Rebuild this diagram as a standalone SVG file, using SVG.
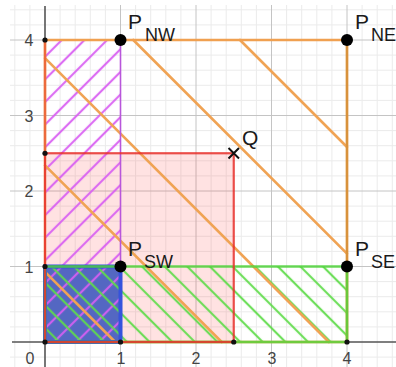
<svg xmlns="http://www.w3.org/2000/svg" width="396" height="367" viewBox="0 0 396 367">
<style>
.minor{stroke:#ebebeb;stroke-width:1;fill:none}
.major{stroke:#c4c4c4;stroke-width:1;fill:none}
.axis{stroke:#555;stroke-width:1.6;fill:none}
.tick{font-family:"Liberation Sans",Arial,sans-serif;font-size:16px;fill:#444;text-anchor:middle}
.lbl{font-family:"Liberation Sans",Arial,sans-serif;fill:#1a1a1a}
.big{font-size:21px}
.sub{font-size:18px}
.ohatch{stroke:#f0a354;stroke-width:2.6;fill:none;stroke-linecap:round}
.pt{fill:#000}
.vx{fill:#111}
</style>
<defs>
<pattern id="hm" patternUnits="userSpaceOnUse" width="16" height="16" patternTransform="rotate(45)">
<line x1="8" y1="-1" x2="8" y2="17" stroke="#d95ef2" stroke-width="2.2" stroke-opacity="0.9"/>
</pattern>
<pattern id="hg" patternUnits="userSpaceOnUse" width="16" height="16" patternTransform="rotate(-45)">
<line x1="8" y1="-1" x2="8" y2="17" stroke="#5fdc4a" stroke-width="2.2" stroke-opacity="0.9"/>
</pattern>
</defs>
<rect x="0" y="0" width="396" height="367" fill="#fff"/>
<g id="grid">
<path class="minor" d="M14.8 5V367M29.9 5V367M60.1 5V367M75.2 5V367M90.3 5V367M105.4 5V367M135.6 5V367M150.7 5V367M165.8 5V367M180.9 5V367M211.1 5V367M226.2 5V367M241.3 5V367M256.4 5V367M286.6 5V367M301.7 5V367M316.8 5V367M331.9 5V367M362.1 5V367M377.2 5V367M392.3 5V367M10 357.1H396M10 326.9H396M10 311.8H396M10 296.7H396M10 281.6H396M10 251.4H396M10 236.3H396M10 221.2H396M10 206.1H396M10 175.9H396M10 160.8H396M10 145.7H396M10 130.6H396M10 100.4H396M10 85.3H396M10 70.2H396M10 55.1H396M10 24.9H396M10 9.8H396"/>
<path class="major" d="M120.5 5V367M196 5V367M271.5 5V367M347 5V367M10 266.5H396M10 191H396M10 115.5H396M10 40H396"/>
</g>
<g id="axes">
<path class="axis" d="M45 6V367M12 342H396"/>
<text class="tick" x="29" y="46">4</text>
<text class="tick" x="29" y="121.5">3</text>
<text class="tick" x="29" y="197">2</text>
<text class="tick" x="29" y="272.5">1</text>
<text class="tick" x="30" y="363.5">0</text>
<text class="tick" x="121" y="363.5">1</text>
<text class="tick" x="196" y="363.5">2</text>
<text class="tick" x="272" y="363.5">3</text>
<text class="tick" x="347" y="363.5">4</text>
</g>
<g id="region-red-fill">
<rect x="45" y="153.25" width="188.75" height="188.75" fill="#ff3b3b" fill-opacity="0.15"/>
</g>
<g id="region-blue-fill">
<rect x="45" y="266.5" width="75.5" height="75.5" fill="#5467c2"/>
</g>
<g id="region-magenta-hatch">
<rect x="45" y="40" width="75.5" height="302" fill="url(#hm)"/>
</g>
<g id="region-green-hatch">
<rect x="45" y="266.5" width="302" height="75.5" fill="url(#hg)"/>
</g>
<g id="region-orange-hatch">
<line class="ohatch" x1="45" y1="271.8" x2="115.2" y2="342"/>
<line class="ohatch" x1="45" y1="165.3" x2="221.7" y2="342"/>
<line class="ohatch" x1="45" y1="58.1" x2="328.9" y2="342"/>
<line class="ohatch" x1="133.3" y1="40" x2="347" y2="253.7"/>
<line class="ohatch" x1="240" y1="40" x2="347" y2="147"/>
</g>
<g id="region-magenta">
<rect x="45" y="40" width="75.5" height="302" fill="none" stroke="#b856db" stroke-width="1.6"/>
</g>
<g id="region-orange">
<path d="M45 40H347V342H45Z" fill="none" stroke="#f0a050" stroke-width="2.4"/>
<path d="M347 40V342" fill="none" stroke="#d8923c" stroke-width="2.4"/>
<path d="M45 40V153" fill="none" stroke="#ec6a3c" stroke-width="2.4"/>
</g>
<g id="region-blue">
<rect x="45" y="266.5" width="75.5" height="75.5" fill="none" stroke="#3553dd" stroke-width="4"/>
</g>
<g id="region-green">
<rect x="45" y="266.5" width="302" height="75.5" fill="none" stroke="#4fd63a" stroke-width="2.6" stroke-opacity="0.8"/>
</g>
<g id="region-red">
<rect x="45" y="153.25" width="188.75" height="188.75" fill="none" stroke="#e8302c" stroke-width="2.2" stroke-opacity="0.85"/>
</g>
<g id="vertices">
<circle class="vx" cx="45" cy="40" r="2.6"/>
<circle class="vx" cx="45" cy="153.25" r="2.6"/>
<circle class="vx" cx="45" cy="266.5" r="2.6"/>
<circle class="vx" cx="45" cy="342" r="2.6"/>
<circle class="vx" cx="120.5" cy="342" r="2.6"/>
<circle class="vx" cx="233.75" cy="342" r="2.6"/>
<circle class="vx" cx="347" cy="342" r="2.6"/>
</g>
<g id="P_NW">
<circle class="pt" cx="120.5" cy="40" r="6"/>
<text class="lbl"><tspan class="big" x="128" y="29">P</tspan><tspan class="sub" x="145" y="41">NW</tspan></text>
</g>
<g id="P_NE">
<circle class="pt" cx="347" cy="40" r="6"/>
<text class="lbl"><tspan class="big" x="355" y="29">P</tspan><tspan class="sub" x="371" y="41">NE</tspan></text>
</g>
<g id="P_SW">
<circle class="pt" cx="120.5" cy="266.5" r="6"/>
<text class="lbl"><tspan class="big" x="128" y="255.5">P</tspan><tspan class="sub" x="144" y="267.5">SW</tspan></text>
</g>
<g id="P_SE">
<circle class="pt" cx="347" cy="266.5" r="6"/>
<text class="lbl"><tspan class="big" x="355" y="255.5">P</tspan><tspan class="sub" x="371" y="267.5">SE</tspan></text>
</g>
<g id="Q">
<path d="M228.5 148L239 158.5M239 148L228.5 158.5" stroke="#111" stroke-width="2" fill="none"/>
<text class="lbl big" x="242" y="145">Q</text>
</g>
</svg>
